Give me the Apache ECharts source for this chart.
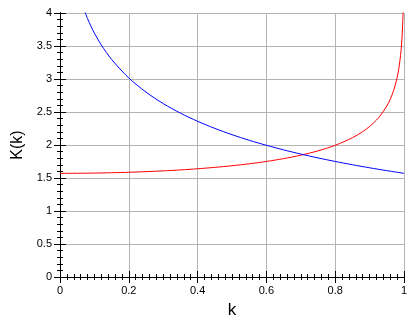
<!DOCTYPE html>
<html><head><meta charset="utf-8">
<script src="https://cdn.jsdelivr.net/npm/echarts@6/dist/echarts.min.js"></script>
<style>html,body{margin:0;padding:0;background:#fff}#c{width:420px;height:320px}</style>
</head><body><div id="c"></div>
<script>
// Red curve: K(k)
const kRed = [0, 0.05, 0.1, 0.15, 0.2, 0.25, 0.3, 0.35, 0.4, 0.45, 0.5, 0.55, 0.6, 0.65, 0.7, 0.75, 0.8, 0.85, 0.88, 0.9, 0.92, 0.93, 0.95, 0.96, 0.97, 0.98, 0.985, 0.99, 0.993, 0.995, 0.997, 0.998];
const KRed = [1.5708, 1.5718, 1.5747, 1.5797, 1.5869, 1.5962, 1.6080, 1.6225, 1.6400, 1.6609, 1.6858, 1.7153, 1.7508, 1.7935, 1.8457, 1.9110, 1.9953, 2.1099, 2.2027, 2.2805, 2.3781, 2.4375, 2.5900, 2.6932, 2.8280, 3.0210, 3.1596, 3.3566, 3.5313, 3.6969, 3.9495, 4.1507];
// Blue curve
const kBlue = [0.07, 0.08, 0.09, 0.1, 0.12, 0.15, 0.2, 0.25, 0.3, 0.35, 0.4, 0.45, 0.5, 0.55, 0.6, 0.65, 0.7, 0.75, 0.8, 0.85, 0.9, 0.95, 1];
const KBlue = [4.0493, 3.9167, 3.7999, 3.6956, 3.5157, 3.2964, 3.0161, 2.8012, 2.6278, 2.4830, 2.3593, 2.2516, 2.1565, 2.0717, 1.9953, 1.9260, 1.8626, 1.8045, 1.7508, 1.7010, 1.6546, 1.6113, 1.5708];
const xTicks = [0, 0.2, 0.4, 0.6, 0.8, 1];
const yTicks = [0, 0.5, 1, 1.5, 2, 2.5, 3, 3.5, 4];
const xMinorStep = 0.02;
const yMinorStep = 0.1;

const font = 'Liberation Sans, Arial, sans-serif';
const zip = (a, b) => a.map((v, i) => [v, b[i]]);
const tickAxis = (ticks, step, len, pos) => ({
  type: 'value', position: pos, min: ticks[0], max: ticks[ticks.length - 1], interval: step,
  axisLine: { show: true, lineStyle: { color: '#000', width: 1 } },
  axisTick: { show: true, inside: true, length: len, lineStyle: { color: '#000' } },
  splitLine: { show: false },
  axisLabel: { show: false }
});

const xB = Object.assign(tickAxis(xTicks, xTicks[1] - xTicks[0], 6, 'bottom'), {
  splitLine: { show: true, lineStyle: { color: '#b4b4b4', width: 1 } },
  axisLabel: { show: true, color: '#000', fontSize: 11, fontFamily: font, margin: 8 },
  name: 'k', nameLocation: 'middle', nameGap: 25,
  nameTextStyle: { color: '#000', fontSize: 17, fontFamily: font }
});
const yL = Object.assign(tickAxis(yTicks, yTicks[1] - yTicks[0], 6, 'left'), {
  splitLine: { show: true, lineStyle: { color: '#b4b4b4', width: 1 } },
  axisLabel: { show: true, color: '#000', fontSize: 11, fontFamily: font, margin: 8 },
  name: 'K(k)', nameLocation: 'middle', nameGap: 34, nameRotate: 90,
  nameTextStyle: { color: '#000', fontSize: 16, fontFamily: font }
});

const chart = echarts.init(document.getElementById('c'), null, { renderer: 'canvas' });
chart.setOption({
  animation: false,
  backgroundColor: '#fff',
  grid: { left: 60, right: 16, top: 13, bottom: 43, containLabel: false, outerBoundsMode: 'none' },
  xAxis: [
    xB,
    tickAxis(xTicks, xTicks[1] - xTicks[0], 6, 'top'),
    tickAxis(xTicks, xMinorStep, 3, 'bottom'),
    tickAxis(xTicks, xMinorStep, 3, 'top')
  ],
  yAxis: [
    yL,
    tickAxis(yTicks, yTicks[1] - yTicks[0], 6, 'right'),
    tickAxis(yTicks, yMinorStep, 3, 'left'),
    tickAxis(yTicks, yMinorStep, 3, 'right')
  ],
  series: [
    { type: 'line', data: zip(kRed, KRed), xAxisIndex: 0, yAxisIndex: 0, showSymbol: false, smooth: 0.3, clip: true,
      lineStyle: { color: '#ff0000', width: 1 } },
    { type: 'line', data: zip(kBlue, KBlue), xAxisIndex: 0, yAxisIndex: 0, showSymbol: false, smooth: 0.3, clip: true,
      lineStyle: { color: '#0000ff', width: 1 } }
  ]
});
</script></body></html>
